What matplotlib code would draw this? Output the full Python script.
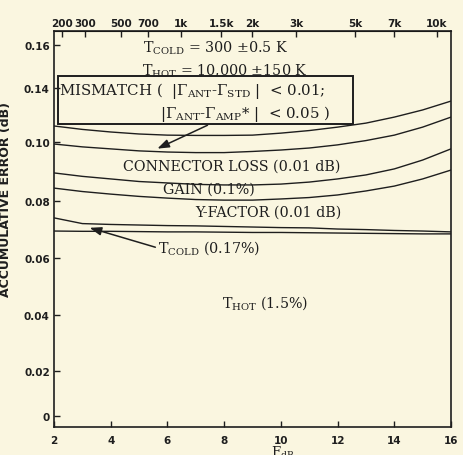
import numpy as np
import matplotlib
matplotlib.use("Agg")
import matplotlib.pyplot as plt
from matplotlib.patches import Rectangle

# 噪声系数 F (dB)
F_DB = [2, 3, 4, 5, 6, 7, 8, 9, 10, 11, 12, 13, 14, 15, 16]
# 各误差项累积曲线 (dB)
mismatch = [0.1056, 0.1044, 0.1035, 0.1028, 0.1024, 0.1023, 0.1023, 0.1024,
            0.1031, 0.1040, 0.1052, 0.1066, 0.1087, 0.1112, 0.1143]
connector = [0.0993, 0.0983, 0.0976, 0.0969, 0.0965, 0.0963, 0.0963, 0.0967,
             0.0972, 0.0979, 0.0990, 0.1005, 0.1024, 0.1052, 0.1087]
gain = [0.0892, 0.0880, 0.0871, 0.0862, 0.0857, 0.0852, 0.0850, 0.0850,
        0.0853, 0.0860, 0.0871, 0.0885, 0.0906, 0.0937, 0.0976]
yfactor = [0.0839, 0.0827, 0.0818, 0.0810, 0.0804, 0.0799, 0.0797, 0.0797,
           0.0801, 0.0806, 0.0815, 0.0829, 0.0846, 0.0871, 0.0902]
tcold = [0.0735, 0.0715, 0.0712, 0.0710, 0.0708, 0.0707, 0.0705, 0.0703,
         0.0701, 0.0700, 0.0696, 0.0694, 0.0691, 0.0689, 0.0686]
thot = [0.0689, 0.0688, 0.0688, 0.0687, 0.0686, 0.0686, 0.0685, 0.0684,
        0.0684, 0.0683, 0.0682, 0.0681, 0.0680, 0.0679, 0.0679]

# 坐标刻度 (原图刻度不等距)
y_ticks = [0.0043, 0.0200, 0.0396, 0.0595, 0.0794, 0.1000, 0.1189, 0.1339]
y_labels = ["0", "0.02", "0.04", "0.06", "0.08", "0.10", "0.14", "0.16"]
x_ticks = [2, 4, 6, 8, 10, 12, 14, 16]
t_ticks = [200, 300, 500, 700, 1000, 1500, 2000, 3000, 5000, 7000, 10000]
t_labels = ["200", "300", "500", "700", "1k", "1.5k", "2k", "3k", "5k", "7k", "10k"]

BG = "#faf6e0"
INK = "#1e1e1e"

plt.rcParams["mathtext.fontset"] = "custom"
plt.rcParams["mathtext.rm"] = "DejaVu Serif"
plt.rcParams["mathtext.it"] = "DejaVu Serif:italic"
plt.rcParams["mathtext.bf"] = "DejaVu Serif:bold"

def f2t(f):
    f = np.asarray(f, dtype=float)
    return 290.0 * (10 ** (f / 10.0) - 1)

def t2f(t):
    t = np.asarray(t, dtype=float)
    return 10 * np.log10(np.maximum(1 + t / 290.0, 1e-9))

fig = plt.figure(figsize=(4.64, 4.56), dpi=100, facecolor=BG)
ax = fig.add_axes([54 / 464, 1 - 428 / 456, 397 / 464, 396 / 456], facecolor=BG)

for s in [mismatch, connector, gain, yfactor, tcold, thot]:
    ax.plot(F_DB, s, color=INK, lw=1.0)

ax.set_xlim(2, 16)
ax.set_ylim(0.00044, 0.13878)
ax.set_xticks(x_ticks)
ax.set_yticks(y_ticks)
ax.set_yticklabels(y_labels)
tick_font = dict(family="DejaVu Sans", weight="bold", size=7.5)
for lab in ax.get_xticklabels() + ax.get_yticklabels():
    lab.set_fontproperties(matplotlib.font_manager.FontProperties(**tick_font))
    lab.set_color(INK)
ax.tick_params(direction="in", length=4, width=1, color=INK, pad=3)
ax.tick_params(axis="x", pad=6)
for sp in ax.spines.values():
    sp.set_color(INK)
    sp.set_linewidth(1.2)

secax = ax.secondary_xaxis("top", functions=(f2t, t2f))
secax.set_xticks(t_ticks)
secax.set_xticklabels(t_labels)
secax.tick_params(direction="in", length=4, width=1, color=INK, pad=2)
secax.minorticks_off()
for lab in secax.get_xticklabels():
    lab.set_fontproperties(matplotlib.font_manager.FontProperties(**tick_font))
    lab.set_color(INK)

ax.set_ylabel("ACCUMULATIVE ERROR (dB)", family="DejaVu Sans", weight="bold",
              size=9, color=INK)
ax.yaxis.set_label_coords(-0.105, 0.576)
ax.set_xlabel(r"F$_{\mathrm{dB}}$", family="DejaVu Serif", size=9.5, color=INK)
ax.xaxis.set_label_coords(0.577, -0.042)

txt = dict(transform=ax.transAxes, family="DejaVu Serif", size=10.3, color=INK,
           va="baseline", ha="left")
ax.text(0.224, 0.947, r"T$_{\mathrm{COLD}}$ = 300 $\pm$0.5 K", **txt)
ax.text(0.222, 0.890, r"T$_{\mathrm{HOT}}$ = 10,000 $\pm$150 K", **txt)
ax.add_patch(Rectangle((0.010, 0.765), 0.743, 0.121, transform=ax.transAxes,
                       fill=False, ec=INK, lw=1.4))
mm = dict(txt, size=10.8)
ax.text(0.013, 0.840,
        r"MISMATCH (  |$\Gamma_{\mathrm{ANT}}$-$\Gamma_{\mathrm{STD}}$ |  < 0.01;", **mm)
ax.text(0.267, 0.782,
        r"|$\Gamma_{\mathrm{ANT}}$-$\Gamma_{\mathrm{AMP}}$* |  < 0.05 )", **mm)
ax.text(0.174, 0.649, "CONNECTOR LOSS (0.01 dB)", **txt)
ax.text(0.275, 0.591, "GAIN (0.1%)", **txt)
ax.text(0.355, 0.533, "Y-FACTOR (0.01 dB)", **txt)
ax.text(0.262, 0.442, r"T$_{\mathrm{COLD}}$ (0.17%)", **txt)
ax.text(0.423, 0.303, r"T$_{\mathrm{HOT}}$ (1.5%)", **txt)

arrow = dict(arrowstyle="-|>,head_length=0.7,head_width=0.25", color=INK, lw=1.1)
ax.annotate("", xy=(0.254, 0.700), xytext=(0.393, 0.765),
            xycoords="axes fraction", textcoords="axes fraction", arrowprops=arrow)
ax.annotate("", xy=(0.083, 0.505), xytext=(0.262, 0.452),
            xycoords="axes fraction", textcoords="axes fraction", arrowprops=arrow)

fig.savefig("out.png", dpi=100, facecolor=BG)
